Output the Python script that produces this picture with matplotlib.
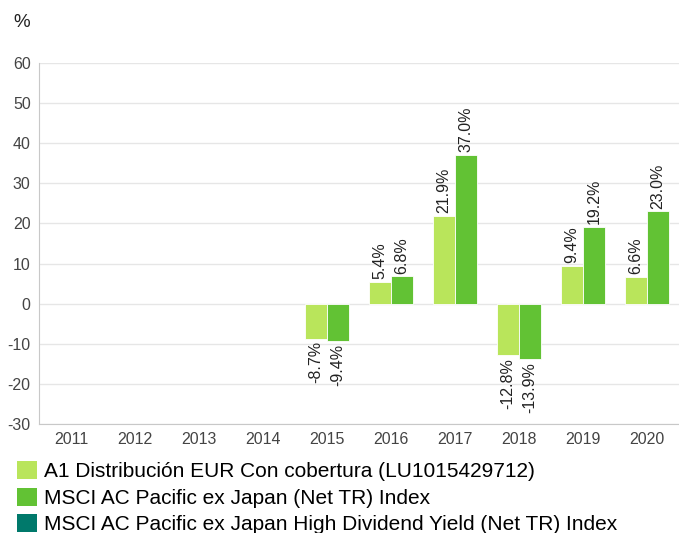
import numpy as np
import matplotlib.pyplot as plt
from matplotlib.patches import Patch

plt.rcParams['font.family'] = ['Liberation Sans', 'DejaVu Sans']
plt.rcParams['axes.unicode_minus'] = False

# ====================== Data ======================
years = ['2011', '2012', '2013', '2014', '2015', '2016', '2017', '2018', '2019', '2020']
fund = [np.nan, np.nan, np.nan, np.nan, -8.7, 5.4, 21.9, -12.8, 9.4, 6.6]
msci = [np.nan, np.nan, np.nan, np.nan, -9.4, 6.8, 37.0, -13.9, 19.2, 23.0]
msci_hdy = [np.nan] * 10

series_names = ['A1 Distribución EUR Con cobertura (LU1015429712)',
                'MSCI AC Pacific ex Japan (Net TR) Index',
                'MSCI AC Pacific ex Japan High Dividend Yield (Net TR) Index']
colors = ['#b9e55b', '#62c234', '#00796b']
y_ticks = [-30, -20, -10, 0, 10, 20, 30, 40, 50, 60]

# ====================== Figure ======================
fig = plt.figure(figsize=(6.79, 5.33), dpi=100)
ax = fig.add_axes([0.0574, 0.2045, 0.9426, 0.6775])

x = np.arange(len(years))
w = 0.343
for vals, off, col in [(fund, -w / 2, colors[0]), (msci, w / 2, colors[1])]:
    bars = ax.bar(x + off, vals, width=w, color=col, edgecolor='white', linewidth=0.6)
    for b, v in zip(bars, vals):
        if np.isnan(v):
            continue
        cx = b.get_x() + b.get_width() / 2
        if v >= 0:
            ax.annotate(f'{v:.1f}%', (cx, v), xytext=(0, 2), textcoords='offset points',
                        rotation=90, ha='center', va='bottom', fontsize=11.5, color='#222222')
        else:
            ax.annotate(f'{v:.1f}%', (cx, v), xytext=(0, -2), textcoords='offset points',
                        rotation=90, ha='center', va='top', fontsize=11.5, color='#222222')

ax.set_xlim(-0.5, len(years) - 0.5)
ax.set_ylim(-30, 60)
ax.set_yticks(y_ticks)
ax.set_xticks(x)
ax.set_xticklabels(years)
ax.tick_params(length=0, labelsize=11.5, colors='#444444')
ax.tick_params(axis='x', pad=6)
ax.tick_params(axis='y', pad=6)
ax.grid(axis='y', color='#e6e6e6', linewidth=1)
ax.set_axisbelow(True)
for s in ['top', 'right']:
    ax.spines[s].set_visible(False)
ax.spines['left'].set_color('#c8c8c8')
ax.spines['bottom'].set_color('#c8c8c8')

fig.text(0.02, 0.958, '%', fontsize=13.5, color='#222222', va='center')

handles = [Patch(facecolor=c, edgecolor='none') for c in colors]
fig.legend(handles, series_names, loc='upper left', bbox_to_anchor=(0.025, 0.135),
           frameon=False, fontsize=15, handlelength=0.96, handleheight=0.96,
           handletextpad=0.35, labelspacing=0.3, borderaxespad=0, borderpad=0)

fig.savefig('out.png', dpi=100)
